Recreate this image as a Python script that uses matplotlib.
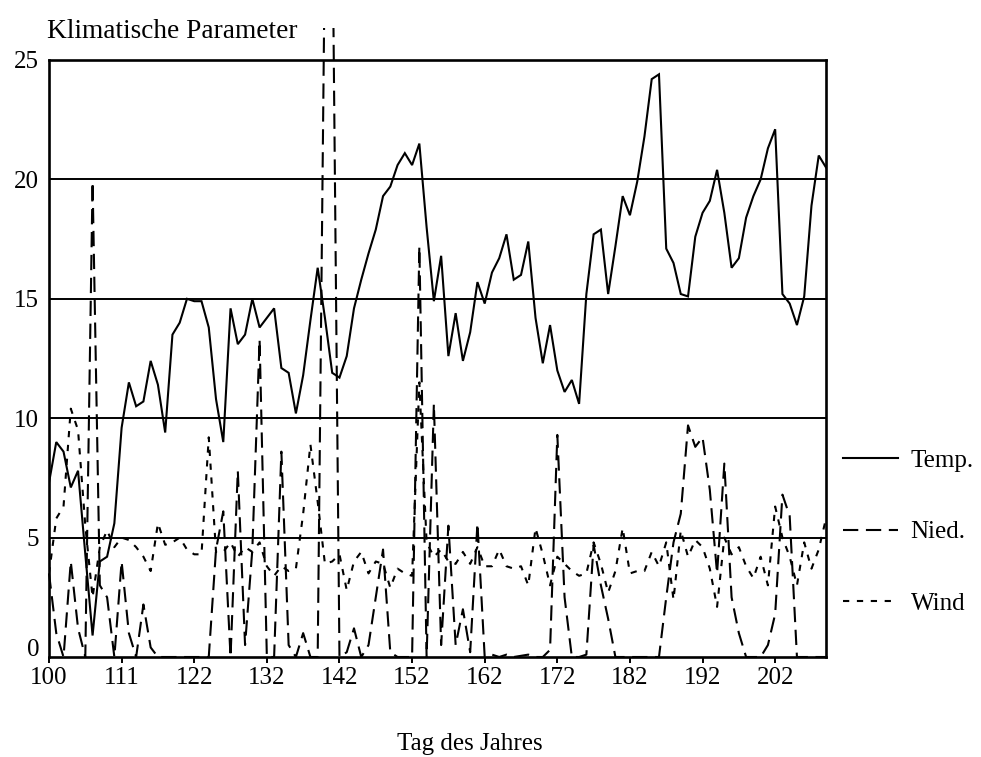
import numpy as np
import matplotlib
matplotlib.use("Agg")
import matplotlib.pyplot as plt
from matplotlib.patches import Rectangle
from matplotlib.transforms import ScaledTranslation

# Daily climate series (temperature, precipitation, wind), one value per day
temp = [7.3, 9.0, 8.6, 7.1, 7.8, 4.3, 0.9, 4.0, 4.2, 5.6,
        9.6, 11.5, 10.5, 10.7, 12.4, 11.4, 9.4, 13.5, 14.0, 15.0,
        14.9, 14.9, 13.8, 10.8, 9.0, 14.6, 13.1, 13.5, 15.0, 13.8,
        14.2, 14.6, 12.1, 11.9, 10.2, 11.8, 14.1, 16.3, 14.2, 11.9,
        11.7, 12.6, 14.6, 15.8, 16.9, 17.9, 19.3, 19.7, 20.6, 21.1,
        20.6, 21.5, 18.0, 14.9, 16.8, 12.6, 14.4, 12.4, 13.6, 15.7,
        14.8, 16.1, 16.7, 17.7, 15.8, 16.0, 17.4, 14.2, 12.3, 13.9,
        12.0, 11.1, 11.6, 10.6, 15.2, 17.7, 17.9, 15.2, 17.2, 19.3,
        18.5, 19.9, 21.8, 24.2, 24.4, 17.1, 16.5, 15.2, 15.1, 17.6,
        18.6, 19.1, 20.4, 18.6, 16.3, 16.7, 18.4, 19.3, 20.0, 21.3,
        22.1, 15.2, 14.8, 13.9, 15.1, 18.9, 21.0, 20.5]

nied = [3.5, 1.0, 0.0, 4.0, 1.2, 0.0, 19.9, 3.0, 2.5, 0.0,
        4.0, 1.0, 0.0, 2.2, 0.4, 0.0, 0.0, 0.0, 0.0, 0.0,
        0.0, 0.0, 0.0, 4.5, 6.1, 0.0, 7.8, 0.5, 4.5, 13.3,
        0.0, 0.0, 8.6, 0.5, 0.0, 1.0, 0.0, 0.0, 30.0, 32.0,
        0.0, 0.2, 1.2, 0.0, 0.5, 2.5, 4.5, 0.2, 0.0, 0.0,
        0.0, 17.2, 0.0, 10.6, 0.5, 5.5, 0.5, 2.0, 0.2, 5.6,
        0.0, 0.1, 0.0, 0.1, 0.0, 0.05, 0.1, 0.0, 0.0, 0.3,
        9.3, 2.5, 0.0, 0.0, 0.1, 4.7, 3.0, 1.6, 0.0, 0.0,
        0.0, 0.0, 0.0, 0.0, 0.0, 2.5, 4.8, 6.0, 9.7, 8.8,
        9.2, 7.0, 3.5, 8.1, 2.5, 1.0, 0.0, 0.0, 0.0, 0.5,
        1.8, 6.8, 5.9, 0.0, 0.0, 0.0, 0.0, 0.0]

wind = [3.5, 5.8, 6.3, 10.4, 9.5, 5.5, 2.5, 4.6, 5.3, 4.6,
        5.0, 4.9, 4.6, 4.2, 3.6, 5.6, 4.7, 4.8, 5.0, 4.5,
        4.3, 4.3, 9.2, 4.4, 4.4, 4.8, 4.2, 4.6, 4.4, 4.8,
        3.8, 3.4, 3.8, 3.6, 3.7, 6.0, 8.9, 6.5, 3.9, 4.0,
        4.3, 2.8, 4.0, 4.4, 3.5, 4.0, 3.9, 2.9, 3.7, 3.5,
        3.4, 11.5, 4.8, 4.2, 4.5, 4.0, 3.9, 4.4, 3.9, 4.6,
        3.8, 3.8, 4.5, 3.8, 3.7, 3.8, 3.0, 5.4, 4.3, 3.0,
        4.2, 3.9, 3.6, 3.4, 3.5, 4.8, 3.9, 2.7, 3.6, 5.4,
        3.5, 3.6, 3.6, 4.4, 3.8, 4.8, 2.4, 5.3, 4.2, 4.9,
        4.6, 3.7, 2.1, 5.0, 4.3, 4.6, 3.8, 3.3, 4.2, 3.0,
        6.3, 5.0, 4.2, 3.0, 4.8, 3.7, 4.5, 5.8]

day_labels = ["100", "111", "122", "132", "142", "152",
              "162", "172", "182", "192", "202"]
y_ticks = [0, 5, 10, 15, 20, 25]

plt.rcParams["font.family"] = ["Liberation Serif", "DejaVu Serif"]
plt.rcParams["lines.scale_dashes"] = False

W, H = 981, 757
fig = plt.figure(figsize=(W / 100, H / 100), dpi=100)
ax = fig.add_axes([49 / W, 1 - 657 / H, 777 / W, 597 / H])

x = np.arange(len(temp))
lw = 1.5
ax.plot(x, temp, color="black", lw=lw, label="Temp.", solid_joinstyle="miter")
nied_line, = ax.plot(x, nied, color="black", lw=lw, dashes=(11, 5.5),
                     label="Nied.")
ax.plot(x, wind, color="black", lw=lw, dashes=(4.5, 5.5), label="Wind")

# precipitation peaks run a little past the top frame
clip_rect = Rectangle((-1, -1), len(temp) + 2, 27.35, transform=ax.transData,
                      visible=False)
ax.add_patch(clip_rect)
nied_line.set_clip_path(clip_rect)

ax.set_xlim(0, len(temp) - 1)
ax.set_ylim(0, 25)
ax.set_yticks(y_ticks)
ax.set_yticklabels([str(v) for v in y_ticks])
ax.set_xticks(np.arange(0, 10 * len(day_labels), 10))
ax.set_xticklabels(day_labels)

for v in y_ticks[1:-1]:
    ax.axhline(v, color="black", lw=1.4, zorder=1)

for s in ax.spines.values():
    s.set_linewidth(1.9)
    s.set_color("black")

ax.tick_params(axis="y", length=0, pad=7, labelsize=18)
ax.tick_params(axis="x", direction="out", length=4.5, width=1.4, pad=2.5,
               labelsize=18)

# lift the "0" label clear of the first day label
zero_label = ax.get_yticklabels()[0]
zero_label.set_transform(zero_label.get_transform()
                         + ScaledTranslation(0, 0.09, fig.dpi_scale_trans))

fig.text(47 / W, 1 - 38 / H, "Klimatische Parameter", fontsize=19.7,
         ha="left", va="baseline")
fig.text(470 / W, 1 - 750 / H, "Tag des Jahres", fontsize=18,
         ha="center", va="baseline")

handles, labels = ax.get_legend_handles_labels()
fig.legend(handles, labels, loc="upper left",
           bbox_to_anchor=(843 / W, 1 - 449 / H), frameon=False,
           fontsize=18, handlelength=2.2, handletextpad=0.5,
           labelspacing=1.97, borderpad=0, borderaxespad=0)

fig.savefig("out.png", dpi=100)
